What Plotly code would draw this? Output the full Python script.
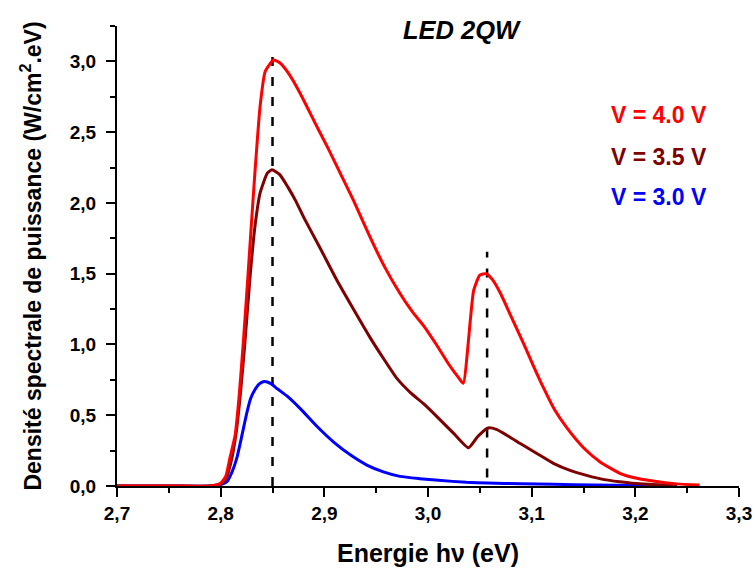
import plotly.graph_objects as go

# Photon energy (eV) and spectral power density (W/cm².eV) for each bias
energy_40 = [2.70, 2.75, 2.79, 2.80, 2.805, 2.809, 2.814, 2.818, 2.822, 2.826, 2.829, 2.833,
             2.838, 2.843, 2.851, 2.857, 2.865, 2.877, 2.890, 2.904, 2.916, 2.928, 2.944,
             2.958, 2.973, 2.985, 2.996, 3.008, 3.020, 3.030, 3.034, 3.044, 3.050, 3.056,
             3.062, 3.070, 3.080, 3.092, 3.101, 3.111, 3.122, 3.134, 3.150, 3.166, 3.185,
             3.198, 3.217, 3.240, 3.262]
power_40 = [0.0, 0.0, 0.0, 0.02, 0.07, 0.20, 0.36, 0.65, 1.03, 1.45, 1.78, 2.21,
            2.68, 2.93, 3.01, 2.99, 2.92, 2.77, 2.58, 2.38, 2.20, 2.02, 1.76,
            1.55, 1.36, 1.23, 1.13, 1.00, 0.86, 0.76, 0.725, 1.38, 1.49, 1.50,
            1.46, 1.36, 1.20, 1.01, 0.86, 0.70, 0.54, 0.41, 0.27, 0.17, 0.09,
            0.06, 0.035, 0.015, 0.007]

energy_35 = [2.70, 2.75, 2.79, 2.80, 2.805, 2.810, 2.815, 2.819, 2.823, 2.8286, 2.833, 2.838,
             2.845, 2.8495, 2.857, 2.865, 2.872, 2.880, 2.896, 2.912, 2.928, 2.944, 2.958,
             2.970, 2.983, 2.996, 3.010, 3.025, 3.039, 3.048, 3.058, 3.066, 3.078, 3.089,
             3.105, 3.121, 3.137, 3.153, 3.170, 3.185, 3.200, 3.217, 3.240]
power_35 = [0.0, 0.0, 0.0, 0.015, 0.05, 0.17, 0.38, 0.65, 0.98, 1.50, 1.83, 2.07,
            2.21, 2.235, 2.20, 2.11, 2.02, 1.90, 1.68, 1.455, 1.25, 1.05, 0.89,
            0.76, 0.66, 0.58, 0.48, 0.37, 0.27, 0.35, 0.41, 0.40, 0.35, 0.30,
            0.23, 0.16, 0.11, 0.075, 0.045, 0.03, 0.018, 0.01, 0.005]

energy_30 = [2.70, 2.75, 2.79, 2.80, 2.806, 2.811, 2.816, 2.820, 2.825, 2.829, 2.833, 2.837,
             2.841, 2.845, 2.849, 2.855, 2.865, 2.877, 2.893, 2.909, 2.925, 2.941, 2.957,
             2.973, 2.992, 3.010, 3.037, 3.057, 3.090, 3.121, 3.160, 3.200, 3.240]
power_30 = [0.0, 0.0, 0.0, 0.01, 0.03, 0.10, 0.21, 0.34, 0.51, 0.62, 0.68, 0.72,
            0.737, 0.735, 0.72, 0.685, 0.63, 0.545, 0.42, 0.31, 0.22, 0.148, 0.10,
            0.068, 0.052, 0.040, 0.026, 0.021, 0.016, 0.012, 0.007, 0.003, 0.001]

# Peak markers (vertical dashed guides)
peak1_x = [2.85, 2.85]
peak1_y = [0.0, 3.07]
peak2_x = [3.057, 3.057]
peak2_y = [0.06, 1.655]

series_labels = ["V = 4.0 V", "V = 3.5 V", "V = 3.0 V"]
series_colors = ["#FF0000", "#7F0000", "#0000FF"]

FONT = "Liberation Sans"

fig = go.Figure()

dash_style = dict(color="black", width=2.5, dash="9px,11px")
fig.add_trace(go.Scatter(x=peak1_x, y=peak1_y, mode="lines", line=dash_style,
                         showlegend=False, hoverinfo="skip"))
fig.add_trace(go.Scatter(x=peak2_x, y=peak2_y, mode="lines", line=dash_style,
                         showlegend=False, hoverinfo="skip"))

for xs, ys, name, col in [(energy_30, power_30, series_labels[2], series_colors[2]),
                          (energy_35, power_35, series_labels[1], series_colors[1]),
                          (energy_40, power_40, series_labels[0], series_colors[0])]:
    fig.add_trace(go.Scatter(x=xs, y=ys, mode="lines", name=name,
                             line=dict(color=col, width=3, shape="spline", smoothing=0.5),
                             showlegend=False))

axis_common = dict(
    showline=True, linecolor="black", linewidth=2,
    ticks="outside", ticklen=9, tickwidth=2, tickcolor="black",
    showgrid=False, zeroline=False, layer="below traces", automargin=False,
    tickfont=dict(family=FONT, size=19, color="black", weight="bold"),
    tickformat=".1f",
)

fig.update_xaxes(
    range=[2.7, 3.3], tick0=2.7, dtick=0.1,
    minor=dict(dtick=0.05, tick0=2.7, ticks="outside", ticklen=5, tickwidth=2,
               tickcolor="black", showgrid=False),
    title=dict(text="Energie hν (eV)", standoff=22,
               font=dict(family=FONT, size=25, color="black", weight="bold")),
    **axis_common,
)
fig.update_yaxes(
    range=[0, 3.25], tick0=0, dtick=0.5,
    minor=dict(dtick=0.25, tick0=0, ticks="outside", ticklen=5, tickwidth=2,
               tickcolor="black", showgrid=False),
    title=dict(text="Densité spectrale de puissance (W/cm<sup>2</sup>.eV)", standoff=22,
               font=dict(family=FONT, size=23, color="black", weight="bold")),
    ticklabelstandoff=6,
    **axis_common,
)

annotations = [
    dict(text="<b><i>LED 2QW</i></b>", x=0.555, y=0.991, xref="paper", yref="paper",
         xanchor="center", yanchor="middle", showarrow=False,
         font=dict(family=FONT, size=25.5, color="black")),
]
for label, col, ypos in zip(series_labels, series_colors, [0.8065, 0.715, 0.629]):
    annotations.append(dict(text="<b>" + label + "</b>", x=0.872, y=ypos,
                            xref="paper", yref="paper", xanchor="center", yanchor="middle",
                            showarrow=False, font=dict(family=FONT, size=23, color=col)))

fig.update_layout(
    width=755, height=571,
    margin=dict(l=117, r=16, t=26, b=85),
    paper_bgcolor="white", plot_bgcolor="white",
    separators=",.",
    annotations=annotations,
    showlegend=False,
)

fig.write_html("out.html")
